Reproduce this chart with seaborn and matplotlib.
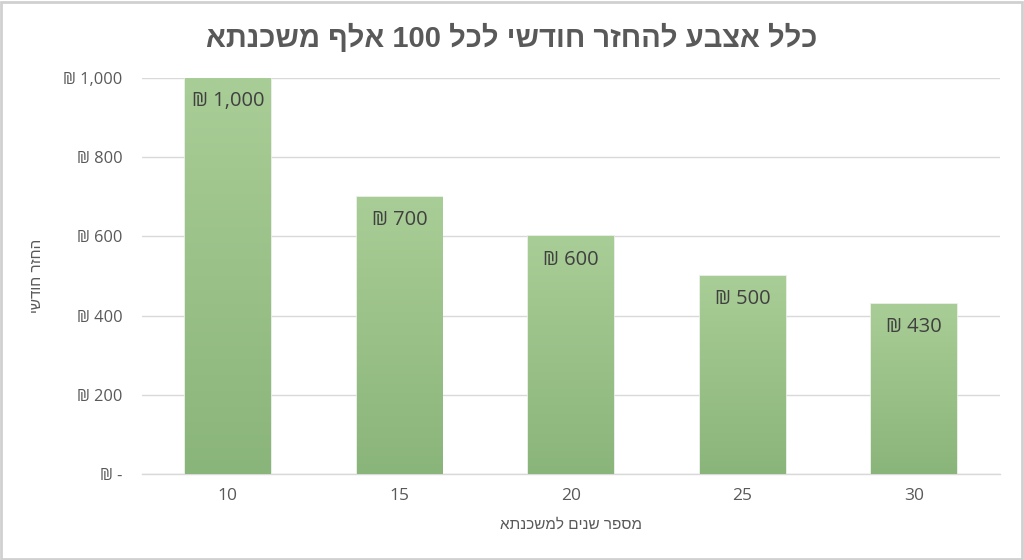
import re
import numpy as np
import pandas as pd
import matplotlib
matplotlib.use("Agg")
import matplotlib.pyplot as plt
import seaborn as sns
from matplotlib.colors import LinearSegmentedColormap
from matplotlib.patches import Rectangle

years = ["10", "15", "20", "25", "30"]
payments = [1000, 700, 600, 500, 430]
yticks = [0, 200, 400, 600, 800, 1000]
title = "כלל אצבע להחזר חודשי לכל 100 אלף משכנתא"
xlabel = "מספר שנים למשכנתא"
ylabel = "החזר חודשי"


def visual(s):
    # convert logical-order Hebrew to visual order (keeping numbers LTR)
    return re.sub(r"[0-9,]+", lambda m: m.group()[::-1], s[::-1])


def shekel(v):
    return "₪ -" if v == 0 else f"₪ {v:,}"


sns.set_theme(style="white")
plt.rcParams["font.family"] = ["Liberation Sans", "DejaVu Sans"]
num_font = ["Open Sans", "Liberation Sans", "DejaVu Sans"]

df = pd.DataFrame({"years": years, "payment": payments})

fig = plt.figure(figsize=(10.24, 5.6), dpi=100)
ax = fig.add_axes([142 / 1024, 1 - 474 / 560, (1000 - 142) / 1024, (474 - 78) / 560])

sns.barplot(data=df, x="years", y="payment", ax=ax, width=0.5,
            color="#9bc386", saturation=1, zorder=2)

ax.set_xlim(-0.5, len(years) - 0.5)
ax.set_ylim(0, 1000)
ax.set_yticks(yticks)
ax.set_yticklabels([shekel(v) for v in yticks], fontsize=11.8, color="#595959",
                   family=num_font)
for t in ax.get_xticklabels():
    t.set_family(num_font)
ax.tick_params(axis="y", length=0, pad=14)
ax.tick_params(axis="x", length=0, pad=10, labelsize=12.5, labelcolor="#595959")
ax.grid(axis="y", color="#d9d9d9", linewidth=1, zorder=0)
ax.set_axisbelow(True)
for side in ["top", "right", "left"]:
    ax.spines[side].set_visible(False)
ax.spines["bottom"].set_color("#d9d9d9")
ax.spines["bottom"].set_linewidth(1)

# vertical gradient fill clipped to each bar
cmap = LinearSegmentedColormap.from_list("g", ["#8ab57a", "#a9cd96"])
grad = np.linspace(0, 1, 256).reshape(-1, 1)
for p in ax.patches:
    x0, y0 = p.get_x(), p.get_y()
    w, h = p.get_width(), p.get_height()
    p.set_edgecolor("#e3ebe0")
    p.set_linewidth(1.2)
    im = ax.imshow(grad, cmap=cmap, aspect="auto", origin="lower",
                   extent=[x0, x0 + w, y0, y0 + h], zorder=3)
    im.set_clip_path(p)

ax.set_xlim(-0.5, len(years) - 0.5)
ax.set_ylim(0, 1000)

ax.bar_label(ax.containers[0], labels=[shekel(v) for v in payments],
             padding=-24, fontsize=14.5, color="#404040", zorder=4,
             family=num_font)

ax.set_xlabel(visual(xlabel), fontsize=11, color="#595959", labelpad=10)
ax.set_ylabel(visual(ylabel), fontsize=11, color="#595959", labelpad=14)

fig.text(0.5, 1 - 38 / 560, visual(title), ha="center", va="center",
         fontsize=21, fontweight="bold", color="#595959")

fig.patches.append(Rectangle((0.001, 0.002), 0.997, 0.995, transform=fig.transFigure,
                             fill=False, edgecolor="#d0d0d0", linewidth=2))

fig.savefig("out.png", dpi=100, facecolor="white")
